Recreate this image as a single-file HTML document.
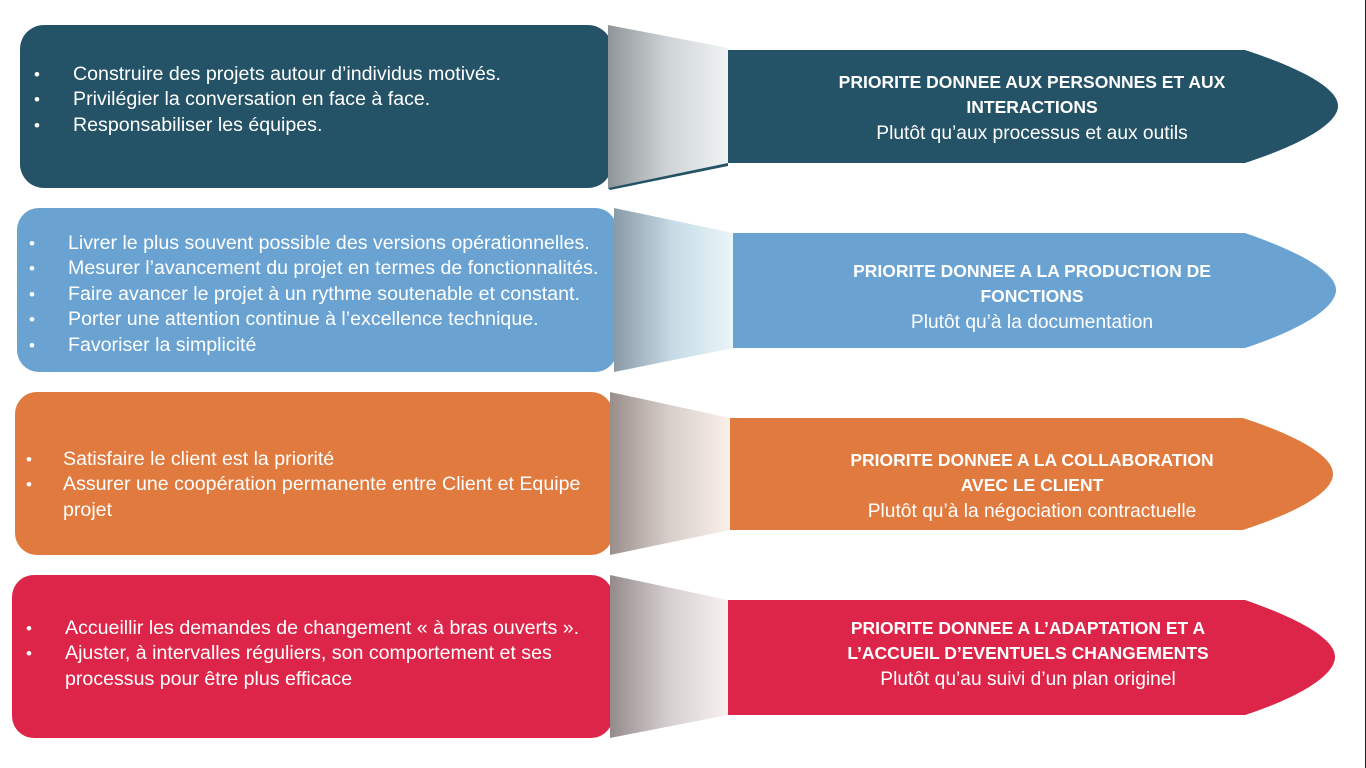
<!DOCTYPE html>
<html><head><meta charset="utf-8"><style>
html,body{margin:0;padding:0;background:#fff;width:1366px;height:768px;overflow:hidden}
svg{display:block}
text{font-family:"Liberation Sans",Arial,sans-serif;fill:#fff}
.b{font-size:19.6px}
.d{font-size:17px}
.h{font-size:17.5px;font-weight:bold}
.s{font-size:19.2px}
</style></head><body>
<svg width="1366" height="768" viewBox="0 0 1366 768">
<defs>
<linearGradient id="g1" x1="0" x2="1" y1="0" y2="0"><stop offset="0" stop-color="#8f9598"/><stop offset="0.5" stop-color="#cfd4d6"/><stop offset="1" stop-color="#f0f3f4"/></linearGradient>
<linearGradient id="g2" x1="0" x2="1"><stop offset="0" stop-color="#8a9aa6"/><stop offset="0.5" stop-color="#c6dce6"/><stop offset="1" stop-color="#eaf6f8"/></linearGradient>
<linearGradient id="g3" x1="0" x2="1"><stop offset="0" stop-color="#9a8e8a"/><stop offset="0.5" stop-color="#d8cfcb"/><stop offset="1" stop-color="#fbf0ea"/></linearGradient>
<linearGradient id="g4" x1="0" x2="1"><stop offset="0" stop-color="#948a8c"/><stop offset="0.5" stop-color="#d6cfd0"/><stop offset="1" stop-color="#f7f1f1"/></linearGradient>
</defs>

<g>
<rect x="20" y="25" width="592" height="163" rx="24" fill="#245266"/>
<path d="M608,25 L728,48 L728,163 L608,188 Z" fill="url(#g1)"/>
<path d="M608,188 L728,163 L728,166 L610,190Z" fill="#245266"/>
<path d="M728,50 H1245 C1300,68 1338,88 1338,106 C1338,124 1300,145 1245,163 H728Z" fill="#245266"/>
<text class="d" x="34" y="80">•</text><text class="b" x="73" y="80">Construire des projets autour d’individus motivés.</text>
<text class="d" x="34" y="105">•</text><text class="b" x="73" y="105">Privilégier la conversation en face à face.</text>
<text class="d" x="34" y="131">•</text><text class="b" x="73" y="131">Responsabiliser les équipes.</text>
<text class="h" x="1032" y="88" text-anchor="middle">PRIORITE DONNEE AUX PERSONNES ET AUX</text>
<text class="h" x="1032" y="113" text-anchor="middle">INTERACTIONS</text>
<text class="s" x="1032" y="139" text-anchor="middle">Plutôt qu’aux processus et aux outils</text>
</g>

<g>
<rect x="17" y="208" width="600" height="164" rx="22" fill="#6aa3d2"/>
<path d="M614,208 L733,233 L733,348 L614,372 Z" fill="url(#g2)"/>
<path d="M733,233 H1245 C1300,252 1336,272 1336,290 C1336,308 1300,330 1245,348 H733Z" fill="#6aa3d2"/>
<text class="d" x="29" y="249">•</text><text class="b" x="68" y="249">Livrer le plus souvent possible des versions opérationnelles.</text>
<text class="d" x="29" y="274">•</text><text class="b" x="68" y="274">Mesurer l’avancement du projet en termes de fonctionnalités.</text>
<text class="d" x="29" y="300">•</text><text class="b" x="68" y="300">Faire avancer le projet à un rythme soutenable et constant.</text>
<text class="d" x="29" y="325">•</text><text class="b" x="68" y="325">Porter une attention continue à l’excellence technique.</text>
<text class="d" x="29" y="351">•</text><text class="b" x="68" y="351">Favoriser la simplicité</text>
<text class="h" x="1032" y="277" text-anchor="middle">PRIORITE DONNEE A LA PRODUCTION DE</text>
<text class="h" x="1032" y="302" text-anchor="middle">FONCTIONS</text>
<text class="s" x="1032" y="328" text-anchor="middle">Plutôt qu’à la documentation</text>
</g>

<g>
<rect x="15" y="392" width="598" height="163" rx="22" fill="#e07a3e"/>
<path d="M610,392 L730,418 L730,530 L610,555 Z" fill="url(#g3)"/>
<path d="M730,418 H1243 C1298,436 1333,456 1333,474 C1333,492 1298,512 1243,530 H730Z" fill="#e07a3e"/>
<text class="d" x="26" y="465">•</text><text class="b" x="63" y="465">Satisfaire le client est la priorité</text>
<text class="d" x="26" y="490">•</text><text class="b" x="63" y="490">Assurer une coopération permanente entre Client et Equipe</text>
<text class="b" x="63" y="516">projet</text>
<text class="h" x="1032" y="466" text-anchor="middle">PRIORITE DONNEE A LA COLLABORATION</text>
<text class="h" x="1032" y="491" text-anchor="middle">AVEC  LE CLIENT</text>
<text class="s" x="1032" y="517" text-anchor="middle">Plutôt qu’à la négociation contractuelle</text>
</g>

<g>
<rect x="12" y="575" width="601" height="163" rx="22" fill="#dd2549"/>
<path d="M610,575 L728,600 L728,715 L610,738 Z" fill="url(#g4)"/>
<path d="M728,600 H1245 C1300,619 1335,639 1335,657 C1335,675 1300,697 1245,715 H728Z" fill="#dd2549"/>
<text class="d" x="26" y="634">•</text><text class="b" x="65" y="634">Accueillir les demandes de changement « à bras ouverts ».</text>
<text class="d" x="26" y="659">•</text><text class="b" x="65" y="659">Ajuster, à intervalles réguliers, son comportement et ses</text>
<text class="b" x="65" y="685">processus pour être plus efficace</text>
<text class="h" x="1028" y="634" text-anchor="middle">PRIORITE DONNEE A L’ADAPTATION ET A</text>
<text class="h" x="1028" y="659" text-anchor="middle">L’ACCUEIL D’EVENTUELS CHANGEMENTS</text>
<text class="s" x="1028" y="685" text-anchor="middle">Plutôt qu’au suivi d’un plan originel</text>
</g>
<rect x="1365" y="0" width="1" height="768" fill="#222"/>
</svg>
</body></html>
